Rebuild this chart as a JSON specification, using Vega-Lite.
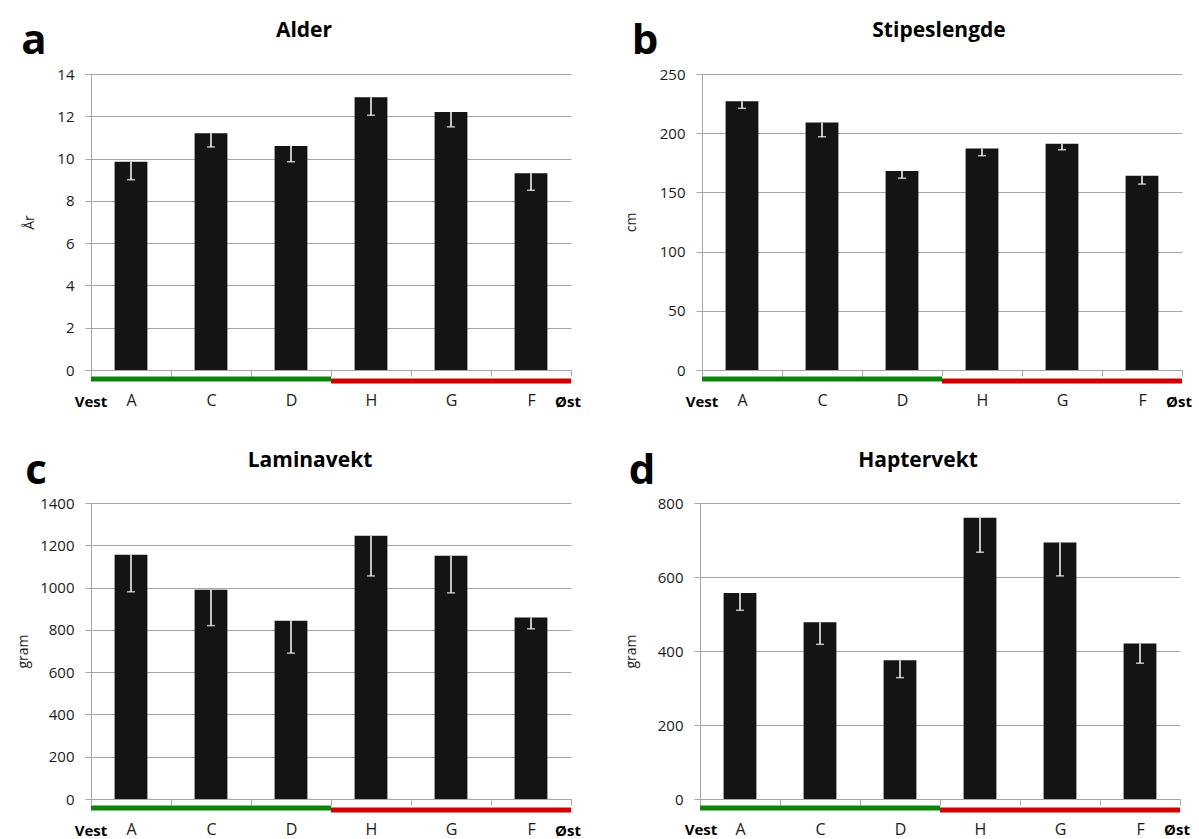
{
  "$schema": "https://vega.github.io/schema/vega-lite/v6.json",
  "background": "white",
  "padding": {"left": 16, "top": 20, "right": 0, "bottom": 0},
  "config": {
    "view": {"stroke": null},
    "font": "Open Sans",
    "axis": {"domainColor": "#a6a6a6", "tickColor": "#a6a6a6", "labelColor": "#1a1a1a", "labelFont": "Open Sans", "titleFont": "Open Sans"},
    "axisX": {"labelAngle": 0, "labelFontSize": 16, "labelPadding": 16, "tickBand": "extent", "tickSize": 6, "grid": false, "title": null},
    "axisY": {"labelFontSize": 15, "labelPadding": 11, "tickSize": 6, "grid": true, "gridColor": "#a6a6a6", "titleFontSize": 14, "titleFontWeight": "normal", "titleColor": "#1a1a1a", "format": "d"},
    "title": {"fontSize": 21, "fontWeight": "bold", "font": "Open Sans", "color": "black", "frame": "group", "anchor": "middle", "offset": -21},
    "text": {"font": "Open Sans"}
  },
  "datasets": {
    "alder": [
      {"site": "A", "side": "Vest", "mean": 9.85, "lo": 9.0},
      {"site": "C", "side": "Vest", "mean": 11.2, "lo": 10.55},
      {"site": "D", "side": "Vest", "mean": 10.6, "lo": 9.85},
      {"site": "H", "side": "Øst", "mean": 12.9, "lo": 12.05},
      {"site": "G", "side": "Øst", "mean": 12.2, "lo": 11.5},
      {"site": "F", "side": "Øst", "mean": 9.3, "lo": 8.5}
    ],
    "stipe": [
      {"site": "A", "side": "Vest", "mean": 227, "lo": 221},
      {"site": "C", "side": "Vest", "mean": 209, "lo": 197},
      {"site": "D", "side": "Vest", "mean": 168, "lo": 162},
      {"site": "H", "side": "Øst", "mean": 187, "lo": 181},
      {"site": "G", "side": "Øst", "mean": 191, "lo": 186},
      {"site": "F", "side": "Øst", "mean": 164, "lo": 157}
    ],
    "lamina": [
      {"site": "A", "side": "Vest", "mean": 1155, "lo": 980},
      {"site": "C", "side": "Vest", "mean": 990, "lo": 820},
      {"site": "D", "side": "Vest", "mean": 843, "lo": 690},
      {"site": "H", "side": "Øst", "mean": 1245, "lo": 1055},
      {"site": "G", "side": "Øst", "mean": 1150, "lo": 975},
      {"site": "F", "side": "Øst", "mean": 858, "lo": 805}
    ],
    "hapter": [
      {"site": "A", "side": "Vest", "mean": 557, "lo": 510},
      {"site": "C", "side": "Vest", "mean": 478, "lo": 418},
      {"site": "D", "side": "Vest", "mean": 375, "lo": 328},
      {"site": "H", "side": "Øst", "mean": 760, "lo": 667},
      {"site": "G", "side": "Øst", "mean": 693, "lo": 603},
      {"site": "F", "side": "Øst", "mean": 420, "lo": 367}
    ]
  },
  "spacing": 40,
  "vconcat": [
    {
      "spacing": 43,
      "hconcat": [
        {
          "width": 480, "height": 296,
          "data": {"name": "alder"},
          "title": {"text": "Alder", "dx": -27},
          "encoding": {"x": {"field": "site", "type": "nominal", "sort": null, "scale": {"domain": ["A", "C", "D", "H", "G", "F"], "paddingInner": 0, "paddingOuter": 0}}},
          "layer": [
            {"transform": [{"filter": "datum.side === 'Vest'"}], "mark": {"type": "bar", "color": "#0a850a", "width": {"band": 1}, "yOffset": 6.5, "y2Offset": 11.5}, "encoding": {"y": {"datum": 0}, "y2": {"datum": 0}}},
            {"transform": [{"filter": "datum.side === 'Øst'"}], "mark": {"type": "bar", "color": "#d40000", "width": {"band": 1}, "yOffset": 8.5, "y2Offset": 13.5}, "encoding": {"y": {"datum": 0}, "y2": {"datum": 0}}},
            {"mark": {"type": "bar", "color": "#141414", "width": {"band": 0.41}}, "encoding": {"y": {"field": "mean", "type": "quantitative", "scale": {"domain": [0, 14], "nice": false}, "axis": {"title": "År", "values": [0, 2, 4, 6, 8, 10, 12, 14], "titlePadding": 20}}}},
            {"mark": {"type": "rule", "color": "white", "strokeWidth": 1.5}, "encoding": {"y": {"field": "mean", "type": "quantitative"}, "y2": {"field": "lo"}}},
            {"mark": {"type": "tick", "color": "white", "thickness": 1.5, "size": 8}, "encoding": {"y": {"field": "lo", "type": "quantitative"}}},
            {"data": {"values": [{"label": "a"}]}, "mark": {"type": "text", "fontSize": 42, "fontWeight": "bold", "color": "black", "baseline": "alphabetic", "align": "center", "xOffset": -97, "yOffset": -20}, "encoding": {"x": {"datum": "A"}, "y": {"datum": 14}, "text": {"field": "label"}}},
            {"data": {"values": [{"label": "Vest"}]}, "mark": {"type": "text", "fontSize": 15, "fontWeight": "bold", "color": "black", "baseline": "alphabetic", "align": "center", "xOffset": -40, "yOffset": 37}, "encoding": {"x": {"datum": "A"}, "y": {"datum": 0}, "text": {"field": "label"}}},
            {"data": {"values": [{"label": "Øst"}]}, "mark": {"type": "text", "fontSize": 15, "fontWeight": "bold", "color": "black", "baseline": "alphabetic", "align": "center", "xOffset": 37, "yOffset": 37}, "encoding": {"x": {"datum": "F"}, "y": {"datum": 0}, "text": {"field": "label"}}}
          ]
        },
        {
          "width": 480, "height": 296,
          "data": {"name": "stipe"},
          "title": {"text": "Stipeslengde", "dx": -3},
          "encoding": {"x": {"field": "site", "type": "nominal", "sort": null, "scale": {"domain": ["A", "C", "D", "H", "G", "F"], "paddingInner": 0, "paddingOuter": 0}}},
          "layer": [
            {"transform": [{"filter": "datum.side === 'Vest'"}], "mark": {"type": "bar", "color": "#0a850a", "width": {"band": 1}, "yOffset": 6.5, "y2Offset": 11.5}, "encoding": {"y": {"datum": 0}, "y2": {"datum": 0}}},
            {"transform": [{"filter": "datum.side === 'Øst'"}], "mark": {"type": "bar", "color": "#d40000", "width": {"band": 1}, "yOffset": 8.5, "y2Offset": 13.5}, "encoding": {"y": {"datum": 0}, "y2": {"datum": 0}}},
            {"mark": {"type": "bar", "color": "#141414", "width": {"band": 0.41}}, "encoding": {"y": {"field": "mean", "type": "quantitative", "scale": {"domain": [0, 250], "nice": false}, "axis": {"title": "cm", "values": [0, 50, 100, 150, 200, 250], "titlePadding": 21}}}},
            {"mark": {"type": "rule", "color": "white", "strokeWidth": 1.5}, "encoding": {"y": {"field": "mean", "type": "quantitative"}, "y2": {"field": "lo"}}},
            {"mark": {"type": "tick", "color": "white", "thickness": 1.5, "size": 8}, "encoding": {"y": {"field": "lo", "type": "quantitative"}}},
            {"data": {"values": [{"label": "b"}]}, "mark": {"type": "text", "fontSize": 42, "fontWeight": "bold", "color": "black", "baseline": "alphabetic", "align": "center", "xOffset": -97, "yOffset": -20}, "encoding": {"x": {"datum": "A"}, "y": {"datum": 250}, "text": {"field": "label"}}},
            {"data": {"values": [{"label": "Vest"}]}, "mark": {"type": "text", "fontSize": 15, "fontWeight": "bold", "color": "black", "baseline": "alphabetic", "align": "center", "xOffset": -40, "yOffset": 37}, "encoding": {"x": {"datum": "A"}, "y": {"datum": 0}, "text": {"field": "label"}}},
            {"data": {"values": [{"label": "Øst"}]}, "mark": {"type": "text", "fontSize": 15, "fontWeight": "bold", "color": "black", "baseline": "alphabetic", "align": "center", "xOffset": 37, "yOffset": 37}, "encoding": {"x": {"datum": "F"}, "y": {"datum": 0}, "text": {"field": "label"}}}
          ]
        }
      ]
    },
    {
      "spacing": 43,
      "hconcat": [
        {
          "width": 480, "height": 296,
          "data": {"name": "lamina"},
          "title": {"text": "Laminavekt", "dx": -21},
          "encoding": {"x": {"field": "site", "type": "nominal", "sort": null, "scale": {"domain": ["A", "C", "D", "H", "G", "F"], "paddingInner": 0, "paddingOuter": 0}}},
          "layer": [
            {"transform": [{"filter": "datum.side === 'Vest'"}], "mark": {"type": "bar", "color": "#0a850a", "width": {"band": 1}, "yOffset": 6.5, "y2Offset": 11.5}, "encoding": {"y": {"datum": 0}, "y2": {"datum": 0}}},
            {"transform": [{"filter": "datum.side === 'Øst'"}], "mark": {"type": "bar", "color": "#d40000", "width": {"band": 1}, "yOffset": 8.5, "y2Offset": 13.5}, "encoding": {"y": {"datum": 0}, "y2": {"datum": 0}}},
            {"mark": {"type": "bar", "color": "#141414", "width": {"band": 0.41}}, "encoding": {"y": {"field": "mean", "type": "quantitative", "scale": {"domain": [0, 1400], "nice": false}, "axis": {"title": "gram", "values": [0, 200, 400, 600, 800, 1000, 1200, 1400], "titlePadding": 9}}}},
            {"mark": {"type": "rule", "color": "white", "strokeWidth": 1.5}, "encoding": {"y": {"field": "mean", "type": "quantitative"}, "y2": {"field": "lo"}}},
            {"mark": {"type": "tick", "color": "white", "thickness": 1.5, "size": 8}, "encoding": {"y": {"field": "lo", "type": "quantitative"}}},
            {"data": {"values": [{"label": "c"}]}, "mark": {"type": "text", "fontSize": 42, "fontWeight": "bold", "color": "black", "baseline": "alphabetic", "align": "center", "xOffset": -95, "yOffset": -19}, "encoding": {"x": {"datum": "A"}, "y": {"datum": 1400}, "text": {"field": "label"}}},
            {"data": {"values": [{"label": "Vest"}]}, "mark": {"type": "text", "fontSize": 15, "fontWeight": "bold", "color": "black", "baseline": "alphabetic", "align": "center", "xOffset": -40, "yOffset": 37}, "encoding": {"x": {"datum": "A"}, "y": {"datum": 0}, "text": {"field": "label"}}},
            {"data": {"values": [{"label": "Øst"}]}, "mark": {"type": "text", "fontSize": 15, "fontWeight": "bold", "color": "black", "baseline": "alphabetic", "align": "center", "xOffset": 37, "yOffset": 37}, "encoding": {"x": {"datum": "F"}, "y": {"datum": 0}, "text": {"field": "label"}}}
          ]
        },
        {
          "width": 480, "height": 296,
          "data": {"name": "hapter"},
          "title": {"text": "Haptervekt", "dx": -22},
          "encoding": {"x": {"field": "site", "type": "nominal", "sort": null, "scale": {"domain": ["A", "C", "D", "H", "G", "F"], "paddingInner": 0, "paddingOuter": 0}}},
          "layer": [
            {"transform": [{"filter": "datum.side === 'Vest'"}], "mark": {"type": "bar", "color": "#0a850a", "width": {"band": 1}, "yOffset": 6.5, "y2Offset": 11.5}, "encoding": {"y": {"datum": 0}, "y2": {"datum": 0}}},
            {"transform": [{"filter": "datum.side === 'Øst'"}], "mark": {"type": "bar", "color": "#d40000", "width": {"band": 1}, "yOffset": 8.5, "y2Offset": 13.5}, "encoding": {"y": {"datum": 0}, "y2": {"datum": 0}}},
            {"mark": {"type": "bar", "color": "#141414", "width": {"band": 0.41}}, "encoding": {"y": {"field": "mean", "type": "quantitative", "scale": {"domain": [0, 800], "nice": false}, "axis": {"title": "gram", "values": [0, 200, 400, 600, 800], "titlePadding": 19}}}},
            {"mark": {"type": "rule", "color": "white", "strokeWidth": 1.5}, "encoding": {"y": {"field": "mean", "type": "quantitative"}, "y2": {"field": "lo"}}},
            {"mark": {"type": "tick", "color": "white", "thickness": 1.5, "size": 8}, "encoding": {"y": {"field": "lo", "type": "quantitative"}}},
            {"data": {"values": [{"label": "d"}]}, "mark": {"type": "text", "fontSize": 42, "fontWeight": "bold", "color": "black", "baseline": "alphabetic", "align": "center", "xOffset": -98, "yOffset": -19}, "encoding": {"x": {"datum": "A"}, "y": {"datum": 800}, "text": {"field": "label"}}},
            {"data": {"values": [{"label": "Vest"}]}, "mark": {"type": "text", "fontSize": 15, "fontWeight": "bold", "color": "black", "baseline": "alphabetic", "align": "center", "xOffset": -39, "yOffset": 36}, "encoding": {"x": {"datum": "A"}, "y": {"datum": 0}, "text": {"field": "label"}}},
            {"data": {"values": [{"label": "Øst"}]}, "mark": {"type": "text", "fontSize": 15, "fontWeight": "bold", "color": "black", "baseline": "alphabetic", "align": "center", "xOffset": 37, "yOffset": 36}, "encoding": {"x": {"datum": "F"}, "y": {"datum": 0}, "text": {"field": "label"}}}
          ]
        }
      ]
    }
  ]
}
